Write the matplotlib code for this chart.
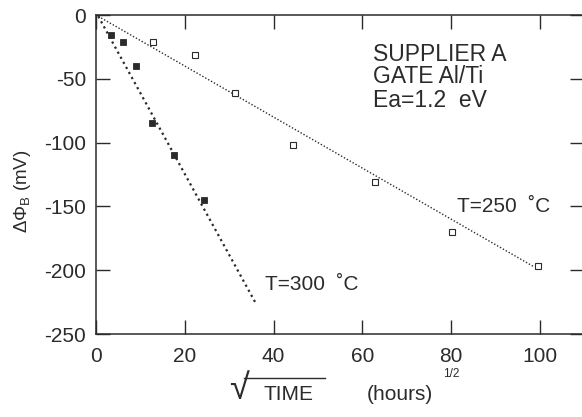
import numpy as np
import matplotlib
matplotlib.use('Agg')
import matplotlib.pyplot as plt
from matplotlib.lines import Line2D

plt.rcParams['font.family'] = ['Liberation Sans', 'DejaVu Sans']
plt.rcParams['mathtext.fontset'] = 'custom'
plt.rcParams['mathtext.rm'] = 'Liberation Sans'
plt.rcParams['mathtext.it'] = 'Liberation Sans:italic'
plt.rcParams['axes.unicode_minus'] = False

# sqrt(time) in hours^1/2, shift of barrier height in mV
t300_x = [3.4, 6.1, 9.0, 12.6, 17.6, 24.4]
t300_y = [-16, -21, -40, -85, -110, -145]

t250_x = [12.9, 22.3, 31.4, 44.3, 62.8, 80.3, 99.5]
t250_y = [-21, -31, -61, -102, -131, -170, -197]

# dotted guide lines (end points)
fit300_x = [0.5, 36.0]
fit300_y = [-1, -226]
fit250_x = [0.5, 98.5]
fit250_y = [-1, -197]

x_ticks = [0, 20, 40, 60, 80, 100]
y_ticks = [0, -50, -100, -150, -200, -250]

ink = '#2b2b2b'

fig = plt.figure(figsize=(5.82, 4.17), dpi=100)
fig.patch.set_facecolor('white')
ax = fig.add_axes([0.165, 0.199, 0.839, 0.765])

ax.plot(fit300_x, fit300_y, color=ink, linestyle=(0, (1, 1.6)), linewidth=1.6)
ax.plot(fit250_x, fit250_y, color=ink, linestyle=(0, (1, 1.4)), linewidth=1.0)

ax.plot(t300_x, t300_y, 's', color=ink, markersize=5, markeredgewidth=0.6)
ax.plot(t250_x, t250_y, 's', markerfacecolor='white', markeredgecolor=ink,
        markersize=4.5, markeredgewidth=0.8)

ax.set_xlim(0, 110)
ax.set_ylim(-250, 0)
ax.set_xticks(x_ticks)
ax.set_yticks(y_ticks)

for side in ax.spines.values():
    side.set_color(ink)
    side.set_linewidth(1.1)

ax.tick_params(axis='both', direction='in', length=10, width=1.0, color=ink,
               labelsize=15, labelcolor=ink, top=True, right=True)
ax.tick_params(axis='x', pad=9)
ax.tick_params(axis='y', pad=7)

# annotations
for yy, s in [(0.875, 'SUPPLIER A'), (0.806, 'GATE Al/Ti'), (0.733, 'Ea=1.2  eV')]:
    ax.text(0.567, yy, s, transform=ax.transAxes, fontsize=16.5,
            color=ink, va='center', ha='left')
ax.text(0.740, 0.400, 'T=250  \u02daC', transform=ax.transAxes, fontsize=15,
        color=ink, va='center', ha='left')
ax.text(0.347, 0.155, 'T=300  \u02daC', transform=ax.transAxes, fontsize=15,
        color=ink, va='center', ha='left')

# axis titles
fig.text(0.038, 0.542, r'$\Delta\Phi_{\mathrm{B}}$ (mV)', rotation=90, fontsize=13.5,
         color=ink, ha='center', va='center')
fig.text(0.393, 0.066, '\u221a', fontsize=26, color=ink, ha='left', va='center',
         family='Liberation Sans')
fig.add_artist(Line2D([244 / 582, 325 / 582], [1 - 378 / 417, 1 - 378 / 417],
                      color=ink, linewidth=1.0, transform=fig.transFigure))
fig.text(0.452, 0.054, 'TIME', fontsize=15, color=ink, ha='left', va='center')
fig.text(0.630, 0.053, '(hours)', fontsize=15, color=ink, ha='left', va='center')
fig.text(0.761, 0.104, '1/2', fontsize=8.5, color=ink, ha='left', va='center')

fig.savefig('out.png', dpi=100, facecolor='white')
plt.close(fig)
